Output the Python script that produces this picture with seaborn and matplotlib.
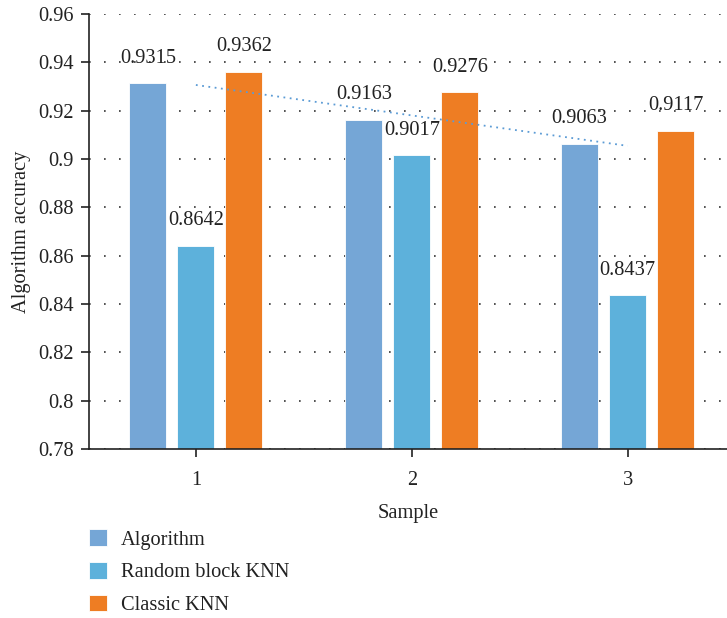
import numpy as np
import pandas as pd
import matplotlib
matplotlib.use("Agg")
import matplotlib.pyplot as plt
import seaborn as sns
from matplotlib.ticker import FuncFormatter

samples = ["1", "2", "3"]
series_names = ["Algorithm", "Random block KNN", "Classic KNN"]
algorithm = [0.9315, 0.9163, 0.9063]
random_block_knn = [0.8642, 0.9017, 0.8437]
classic_knn = [0.9362, 0.9276, 0.9117]
colors = ["#75A6D6", "#5DB1DB", "#EE7D23"]
trend_color = "#5B9BD5"

df = pd.DataFrame({
    "Sample": samples * 3,
    "Series": [series_names[0]] * 3 + [series_names[1]] * 3 + [series_names[2]] * 3,
    "Value": algorithm + random_block_knn + classic_knn,
})

FS = 14.7
sns.set_theme(style="white")
plt.rcParams["font.family"] = ["Liberation Serif", "DejaVu Serif"]
plt.rcParams["font.size"] = FS

fig = plt.figure(figsize=(7.27, 6.18), dpi=100)
ax = fig.add_axes([89 / 727, 1 - 449 / 618, (727 - 89) / 727, (449 - 14) / 618])

sns.barplot(data=df, x="Sample", y="Value", hue="Series", order=samples,
            hue_order=series_names, palette=colors, width=0.667, gap=0.23,
            saturation=1, edgecolor="white", linewidth=0.6, ax=ax, legend=True)

# value labels
for container in ax.containers:
    ax.bar_label(container, labels=[f"{v:.4f}" for v in container.datavalues],
                 padding=11, fontsize=FS, color="#222222")

# linear trend line of Algorithm series
xs = np.arange(len(samples))
coef = np.polyfit(xs, algorithm, 1)
ax.plot(xs, np.polyval(coef, xs), linestyle=(0, (1, 2.5)), color=trend_color,
        linewidth=1.3, zorder=3)

ax.set_ylim(0.78, 0.96)
ax.set_xlim(-0.495, 2.46)
ax.set_yticks(np.arange(0.78, 0.9601, 0.02))
ax.yaxis.set_major_formatter(FuncFormatter(lambda v, p: f"{v:.2f}".rstrip("0").rstrip(".")))
ax.yaxis.grid(True, linestyle=(0, (1, 8)), color="#333333", linewidth=1.2)
ax.set_axisbelow(True)

for s in ["top", "right"]:
    ax.spines[s].set_visible(False)
for s in ["left", "bottom"]:
    ax.spines[s].set_color("#222222")
    ax.spines[s].set_linewidth(1.2)

ax.tick_params(axis="both", which="both", direction="out", length=6, width=1.2,
               color="#222222", labelsize=FS, labelcolor="#222222", left=True, bottom=True)
ax.tick_params(axis="y", pad=5)
ax.tick_params(axis="x", pad=10)

ax.set_xlabel("Sample", fontsize=FS, color="#222222", labelpad=10)
ax.set_ylabel("Algorithm accuracy", fontsize=FS, color="#222222", labelpad=5)

handles, labels = ax.get_legend_handles_labels()
ax.get_legend().remove()
fig.legend(handles, labels, loc="upper left", bbox_to_anchor=(89 / 727, 1 - 529 / 618),
           frameon=False, fontsize=FS, handlelength=0.9, handleheight=0.9,
           handletextpad=0.65, labelspacing=0.6, borderpad=0, borderaxespad=0,
           labelcolor="#222222")

fig.savefig("out.png", dpi=100)
